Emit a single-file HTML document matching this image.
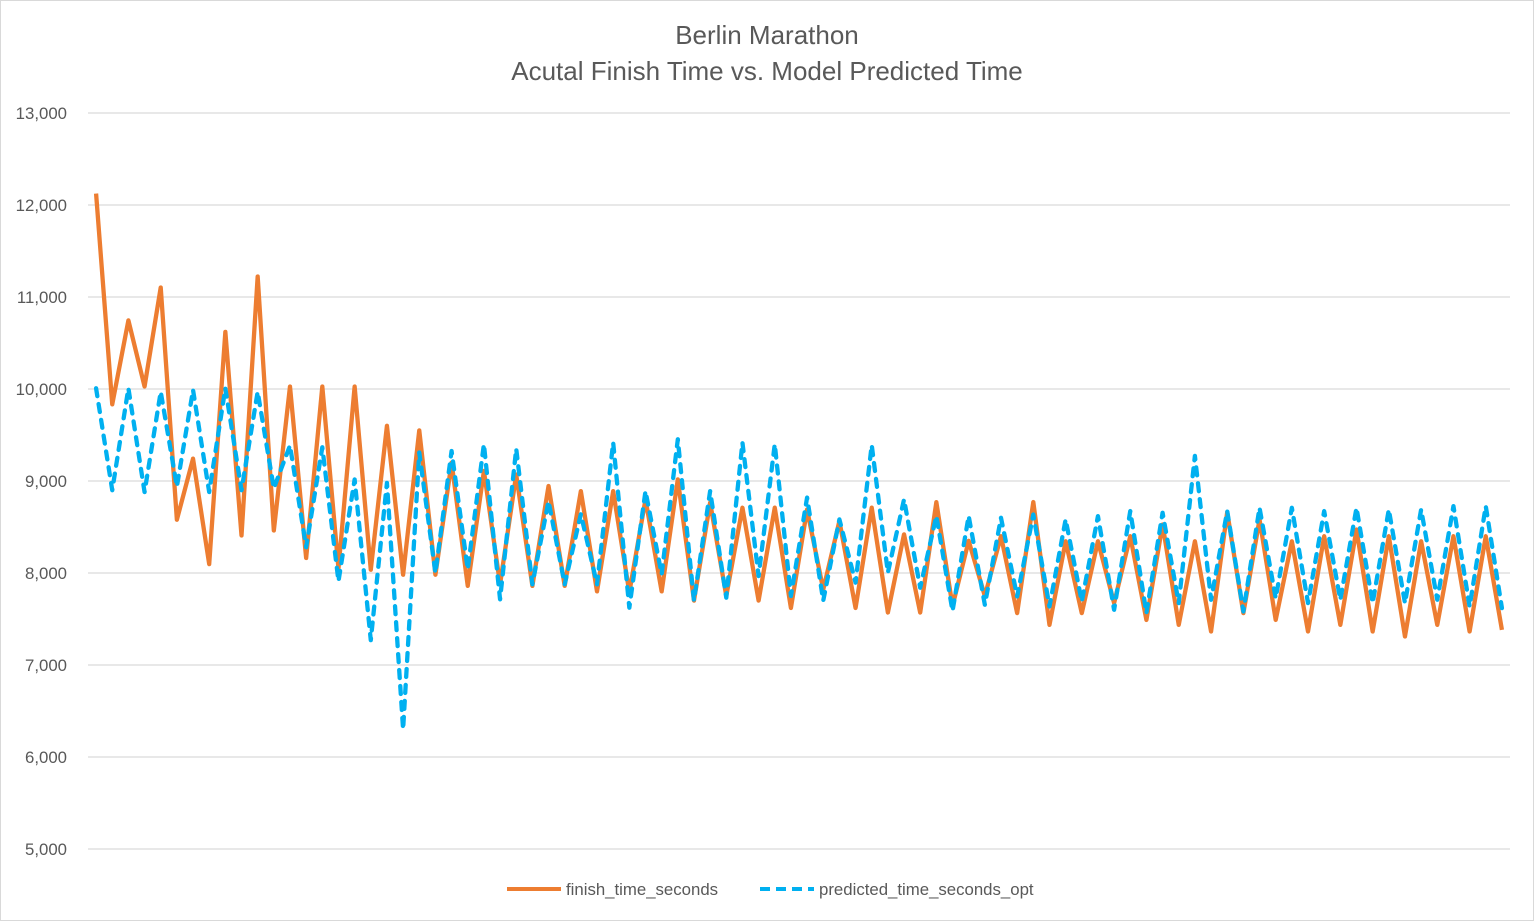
<!DOCTYPE html>
<html><head><meta charset="utf-8"><style>
html,body{margin:0;padding:0;background:#fff;}
svg{display:block;font-family:"Liberation Sans",Arial,sans-serif;}
</style></head><body>
<svg id="chart" width="1534" height="921" viewBox="0 0 1534 921" xmlns="http://www.w3.org/2000/svg">
<rect x="0.5" y="0.5" width="1533" height="920" fill="#fff" stroke="#d9d9d9"/>
<text x="767" y="44" text-anchor="middle" font-size="26" fill="#595959">Berlin Marathon</text>
<text x="767" y="80" text-anchor="middle" font-size="26" fill="#595959">Acutal Finish Time vs. Model Predicted Time</text>
<g id="grid"></g>
<g id="yticks"></g>
<g id="series"></g>
<g>
<g>
<line x1="507" y1="889" x2="561" y2="889" stroke="#ED7D31" stroke-width="4"/>
<text x="566" y="895" font-size="16.8" fill="#595959">finish_time_seconds</text>
</g>
<g>
<line x1="760" y1="889" x2="814" y2="889" stroke="#00B0F0" stroke-width="4" stroke-dasharray="10 6"/>
<text x="819" y="895" font-size="16.8" fill="#595959">predicted_time_seconds_opt</text>
</g>
</g>
</svg>
<script>
const yTicks = [5000,6000,7000,8000,9000,10000,11000,12000,13000];
const yTickLabels = ["5,000","6,000","7,000","8,000","9,000","10,000","11,000","12,000","13,000"];
const finishTime = [12124,9833,10746,10027,11103,8579,9243,8097,10621,8408,11223,8462,10027,8163,10027,8050,10027,8035,9600,7981,9550,7981,
9200,7860,9110,7877,9070,7860,8946,7860,8890,7800,8890,7790,8800,7800,9018,7700,8765,7750,8710,7700,8710,7620,8690,7820,8565,7620,8710,7570,8420,7570,8770,7640,8350,
7750,8400,7564,8771,7436,8345,7564,8345,7673,8400,7490,8527,7436,8345,7364,8662,7564,8582,7490,8345,7364,8400,7436,8473,7364,8400,7310,8345,7436,8400,7364,8400,7382];
const predictedTime = [10008,8900,10008,8880,9970,8940,9990,8880,10008,8900,9970,8920,9386,8280,9367,7910,9017,7270,8980,6300,9310,8000,
9326,8040,9400,7714,9350,7877,8780,7877,8640,7877,9417,7623,8890,7986,9453,7700,8890,7732,9417,7967,9400,7750,8820,7700,8583,7895,9390,8004,8800,7840,8620,7587,8620,
7655,8600,7745,8636,7636,8582,7690,8618,7600,8673,7564,8655,7673,9273,7709,8673,7582,8709,7727,8709,7673,8673,7709,8709,7673,8690,7673,8690,7709,8727,7636,8727,7618];

const NS = "http://www.w3.org/2000/svg";
const plotL = 88, plotR = 1510, yTop = 113, yBot = 849, yMin = 5000, yMax = 13000;
function yScale(v){ return yBot - (v - yMin) / (yMax - yMin) * (yBot - yTop); }
function xScale(i, n){ const w = (plotR - plotL) / n; return plotL + w * (i + 0.5); }

const grid = document.getElementById('grid');
const yt = document.getElementById('yticks');
yTicks.forEach((v, k) => {
  const l = document.createElementNS(NS, 'line');
  
  
  l.setAttribute('x1', plotL); l.setAttribute('x2', plotR);
  l.setAttribute('y1', yScale(v)); l.setAttribute('y2', yScale(v));
  l.setAttribute('stroke', '#d9d9d9'); l.setAttribute('stroke-width', '1.3');
  grid.appendChild(l);
  const t = document.createElementNS(NS, 'text');
  
  
  t.setAttribute('x', 67); t.setAttribute('y', yScale(v) + 6);
  t.setAttribute('text-anchor', 'end'); t.setAttribute('font-size', '16.8'); t.setAttribute('fill', '#595959');
  t.textContent = yTickLabels[k];
  yt.appendChild(t);
});

const series = document.getElementById('series');
function drawLine(vals, color, dash, name){
  const n = vals.length;
  const d = vals.map((v, i) => (i ? 'L' : 'M') + xScale(i, n).toFixed(2) + ',' + yScale(v).toFixed(2)).join(' ');
  const p = document.createElementNS(NS, 'path');
  
  
  p.setAttribute('d', d);
  p.setAttribute('fill', 'none');
  p.setAttribute('stroke', color);
  p.setAttribute('stroke-width', '4.3');
  p.setAttribute('stroke-linejoin', 'round');
  if (dash) { p.setAttribute('stroke-dasharray', dash); p.setAttribute('stroke-linecap', 'round'); }
  series.appendChild(p);
}
drawLine(finishTime, '#ED7D31', null, 'finish-time-line');
drawLine(predictedTime, '#00B0F0', '8 8', 'predicted-time-line');
</script>
</body></html>
